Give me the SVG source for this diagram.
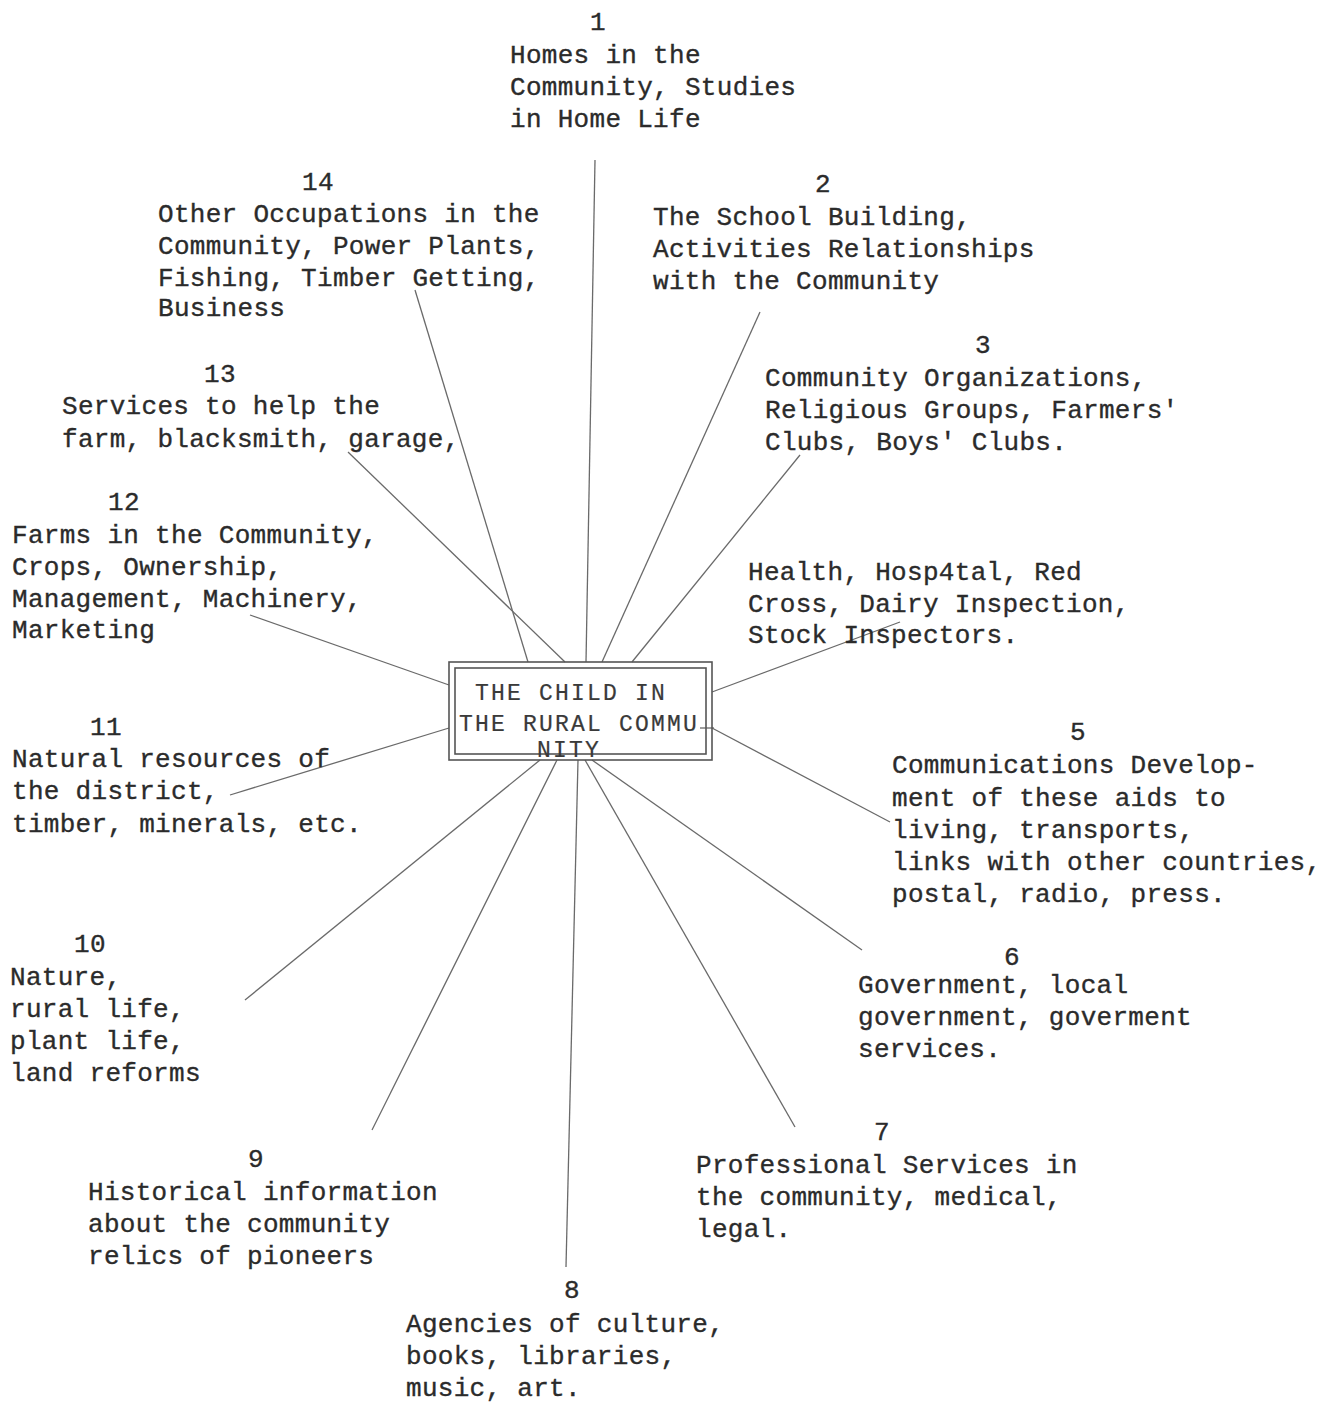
<svg xmlns="http://www.w3.org/2000/svg" width="1323" height="1402" viewBox="0 0 1323 1402">
<style>
text{font-family:"Liberation Mono","Courier New",monospace;font-size:26px;letter-spacing:0.3px;fill:#2b2b2b;stroke:#2b2b2b;stroke-width:0.35}
.c line{stroke:#6a6a6a;stroke-width:1.3}
.box{fill:none;stroke:#555;stroke-width:1.6}
.ctr{font-size:23px;letter-spacing:2.2px;fill:#3a3a3a;stroke:#3a3a3a;stroke-width:0.2}
</style>
<rect width="1323" height="1402" fill="#ffffff"/>
<g class="c" id="connectors">
<line x1="595" y1="160" x2="586" y2="662"/>
<line x1="415" y1="290" x2="528" y2="662"/>
<line x1="760" y1="312" x2="602" y2="662"/>
<line x1="800" y1="455" x2="632" y2="662"/>
<line x1="348" y1="452" x2="565" y2="662"/>
<line x1="250" y1="615" x2="449" y2="685"/>
<line x1="900" y1="622" x2="712" y2="692"/>
<line x1="230" y1="795" x2="449" y2="728"/>
<line x1="890" y1="822" x2="712" y2="728"/>
<line x1="700" y1="728" x2="714" y2="728"/>
<line x1="862" y1="950" x2="592" y2="760"/>
<line x1="245" y1="1000" x2="540" y2="760"/>
<line x1="372" y1="1130" x2="557" y2="760"/>
<line x1="795" y1="1127" x2="585" y2="760"/>
<line x1="578" y1="760" x2="566" y2="1267"/>
</g>
<g id="center">
<rect class="box" x="449" y="662" width="263" height="98"/>
<rect class="box" x="455" y="668" width="251" height="86"/>
<text class="ctr" x="475" y="700">THE CHILD IN</text>
<text class="ctr" x="459" y="731">THE RURAL COMMU</text>
<text class="ctr" x="537" y="757">NITY</text>
</g>
<g id="n1">
<text x="590" y="30">1</text>
<text x="510" y="63">Homes in the</text>
<text x="510" y="95">Community, Studies</text>
<text x="510" y="127">in Home Life</text>
</g>
<g id="n2">
<text x="815" y="192">2</text>
<text x="653" y="225">The School Building,</text>
<text x="653" y="257">Activities Relationships</text>
<text x="653" y="289">with the Community</text>
</g>
<g id="n3">
<text x="975" y="353">3</text>
<text x="765" y="386">Community Organizations,</text>
<text x="765" y="418">Religious Groups, Farmers'</text>
<text x="765" y="450">Clubs, Boys' Clubs.</text>
</g>
<g id="n4">
<text x="748" y="580">Health, Hosp4tal, Red</text>
<text x="748" y="612">Cross, Dairy Inspection,</text>
<text x="748" y="643">Stock Inspectors.</text>
</g>
<g id="n5">
<text x="1070" y="740">5</text>
<text x="892" y="773">Communications Develop-</text>
<text x="892" y="806">ment of these aids to</text>
<text x="892" y="838">living, transports,</text>
<text x="892" y="870">links with other countries,</text>
<text x="892" y="902">postal, radio, press.</text>
</g>
<g id="n6">
<text x="1004" y="965">6</text>
<text x="858" y="993">Government, local</text>
<text x="858" y="1025">government, goverment</text>
<text x="858" y="1057">services.</text>
</g>
<g id="n7">
<text x="874" y="1140">7</text>
<text x="696" y="1173">Professional Services in</text>
<text x="696" y="1205">the community, medical,</text>
<text x="696" y="1237">legal.</text>
</g>
<g id="n8">
<text x="564" y="1298">8</text>
<text x="406" y="1332">Agencies of culture,</text>
<text x="406" y="1364">books, libraries,</text>
<text x="406" y="1396">music, art.</text>
</g>
<g id="n9">
<text x="248" y="1167">9</text>
<text x="88" y="1200">Historical information</text>
<text x="88" y="1232">about the community</text>
<text x="88" y="1264">relics of pioneers</text>
</g>
<g id="n10">
<text x="74" y="952">10</text>
<text x="10" y="985">Nature,</text>
<text x="10" y="1017">rural life,</text>
<text x="10" y="1049">plant life,</text>
<text x="10" y="1081">land reforms</text>
</g>
<g id="n11">
<text x="90" y="735">11</text>
<text x="12" y="767">Natural resources of</text>
<text x="12" y="799">the district,</text>
<text x="12" y="832">timber, minerals, etc.</text>
</g>
<g id="n12">
<text x="108" y="510">12</text>
<text x="12" y="543">Farms in the Community,</text>
<text x="12" y="575">Crops, Ownership,</text>
<text x="12" y="607">Management, Machinery,</text>
<text x="12" y="638">Marketing</text>
</g>
<g id="n13">
<text x="204" y="382">13</text>
<text x="62" y="414">Services to help the</text>
<text x="62" y="447">farm, blacksmith, garage,</text>
</g>
<g id="n14">
<text x="302" y="190">14</text>
<text x="158" y="222">Other Occupations in the</text>
<text x="158" y="254">Community, Power Plants,</text>
<text x="158" y="286">Fishing, Timber Getting,</text>
<text x="158" y="316">Business</text>
</g>
</svg>
